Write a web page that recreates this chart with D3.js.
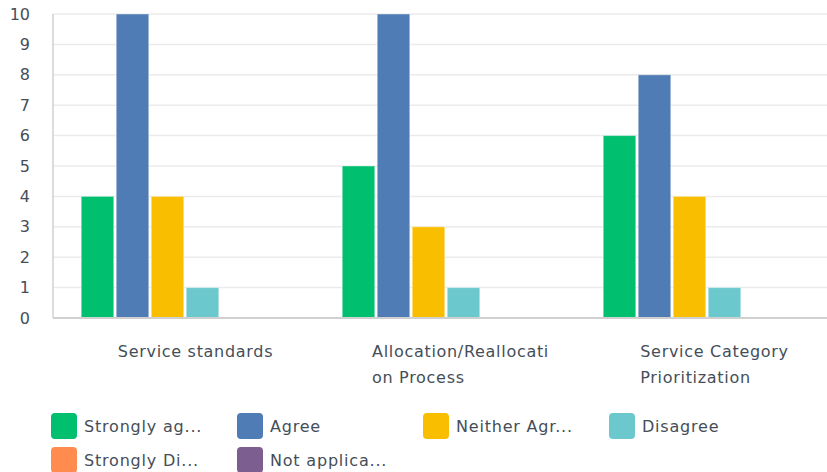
<!DOCTYPE html>
<html>
<head>
<meta charset="utf-8">
<script src="https://cdn.jsdelivr.net/npm/d3@7"></script>
<style>
  body { margin: 0; background: #fff; }
  svg { font-family: "DejaVu Sans", "Open Sans", sans-serif; }
</style>
</head>
<body>
<svg id="chart" width="827" height="472"></svg>
<script>
// Data
const categories = ["Service standards", "Allocation/Reallocation Process", "Service Category Prioritization"];
const categoryLines = [["Service standards"], ["Allocation/Reallocati", "on Process"], ["Service Category", "Prioritization"]];
const series = ["Strongly agree", "Agree", "Neither Agree nor Disagree", "Disagree", "Strongly Disagree", "Not applicable"];
const legendLabels = ["Strongly ag...", "Agree", "Neither Agr...", "Disagree", "Strongly Di...", "Not applica..."];
const stronglyAgree = [4, 5, 6];
const agree = [10, 10, 8];
const neither = [4, 3, 4];
const disagree = [1, 1, 1];
const stronglyDisagree = [0, 0, 0];
const notApplicable = [0, 0, 0];
const yTicks = [0, 1, 2, 3, 4, 5, 6, 7, 8, 9, 10];
const colors = ["#00bf6f", "#507cb6", "#f9be00", "#6bc8cd", "#ff8b4f", "#7d5e90"];

const values = [stronglyAgree, agree, neither, disagree, stronglyDisagree, notApplicable];
const rows = categories.map((c, i) => ({
  cat: c,
  vals: series.map((s, j) => ({ key: s, value: values[j][i] }))
}));

const svg = d3.select("#chart");
const plotLeft = 53, plotTop = 14, plotBottom = 318, plotRight = 827;
const textColor = "#454e58";

// Scales
const x0 = d3.scaleBand().domain(categories).range([56, 56 + 783]);
const x1 = d3.scaleBand().domain(series).range([24, 234]).paddingInner(0.07).paddingOuter(0.035);
const y = d3.scaleLinear().domain([0, 10]).range([plotBottom, plotTop]);
const color = d3.scaleOrdinal().domain(series).range(colors);

// Gridlines
svg.append("g")
  .selectAll("line")
  .data(yTicks.slice(1))
  .enter()
  .append("line")
  .attr("x1", plotLeft).attr("x2", plotRight)
  .attr("y1", d => y(d)).attr("y2", d => y(d))
  .attr("stroke", "#ebebeb")
  .attr("stroke-width", 1.5);

// Y axis labels
svg.append("g")
  .selectAll("text")
  .data(yTicks)
  .enter()
  .append("text")
  .attr("x", 30)
  .attr("y", d => y(d))
  .attr("dy", "0.35em")
  .attr("text-anchor", "end")
  .attr("fill", textColor)
  .style("font-size", "16px")
  .text(d => d);

// Bars
const groups = svg.append("g")
  .selectAll("g")
  .data(rows)
  .enter()
  .append("g")
  .attr("transform", d => `translate(${x0(d.cat)},0)`);

groups.selectAll("rect")
  .data(d => d.vals)
  .enter()
  .append("rect")
  .attr("x", d => x1(d.key))
  .attr("width", x1.bandwidth())
  .attr("y", d => y(d.value))
  .attr("height", d => y(0) - y(d.value))
  .attr("fill", d => color(d.key))
  .attr("stroke", "#ffffff")
  .attr("stroke-opacity", 0.4)
  .attr("stroke-width", 1);

// Axis lines
svg.append("line")
  .attr("x1", plotLeft).attr("x2", plotLeft)
  .attr("y1", plotTop).attr("y2", plotBottom)
  .attr("stroke", "#d0d0d0").attr("stroke-width", 1.5);
svg.append("line")
  .attr("x1", plotLeft).attr("x2", plotRight)
  .attr("y1", plotBottom).attr("y2", plotBottom)
  .attr("stroke", "#d0d0d0").attr("stroke-width", 2);

// Category labels (block centred, lines left aligned)
const labelOffsets = [9, 13, 6];
categories.forEach((c, i) => {
  const g = svg.append("g");
  const t = g.append("text")
    .attr("fill", textColor)
    .style("font-size", "16px")
    .style("letter-spacing", "0.7px");
  categoryLines[i].forEach((line, k) => {
    t.append("tspan")
      .attr("x", 0)
      .attr("y", 357 + k * 26)
      .text(line);
  });
  const w = t.node().getBBox().width;
  const cx = x0(c) + x0.bandwidth() / 2 + labelOffsets[i];
  g.attr("transform", `translate(${cx - w / 2},0)`);
});

// Legend
const legend = svg.append("g")
  .selectAll("g")
  .data(series)
  .enter()
  .append("g")
  .attr("transform", (d, i) => `translate(${51 + (i % 4) * 186},${413 + Math.floor(i / 4) * 34})`);

legend.append("rect")
  .attr("width", 26).attr("height", 26)
  .attr("rx", 4)
  .attr("fill", d => color(d));

legend.append("text")
  .attr("x", 33)
  .attr("y", 13)
  .attr("dy", "0.35em")
  .attr("fill", textColor)
  .style("font-size", "16px")
  .style("letter-spacing", "0.8px")
  .text((d, i) => legendLabels[i]);
</script>
</body>
</html>
